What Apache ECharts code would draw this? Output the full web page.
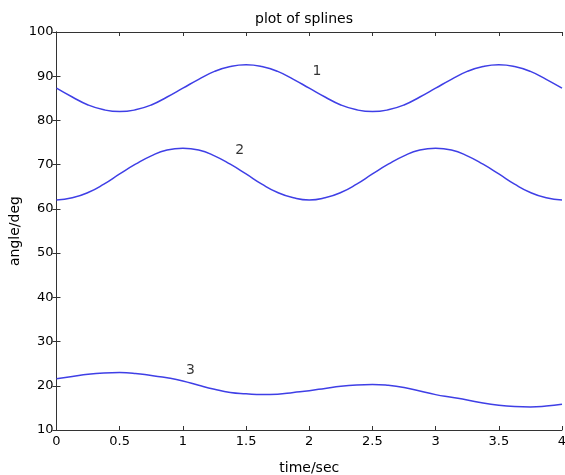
<!DOCTYPE html>
<html>
<head>
<meta charset="utf-8">
<script src="https://cdn.jsdelivr.net/npm/echarts@6/dist/echarts.min.js"></script>
<style>
  html, body { margin: 0; padding: 0; background: #fff; }
  #chart { width: 565px; height: 475px; }
</style>
</head>
<body>
<div id="chart"></div>
<script>
// time samples (sec)
const timeSec = [0, 0.125, 0.25, 0.375, 0.5, 0.625, 0.75, 0.875, 1, 1.125, 1.25, 1.375, 1.5, 1.625, 1.75, 1.875,
  2, 2.125, 2.25, 2.375, 2.5, 2.625, 2.75, 2.875, 3, 3.125, 3.25, 3.375, 3.5, 3.625, 3.75, 3.875, 4];
// spline values (deg)
const spline1 = [87.3, 85.3, 83.5, 82.4, 82.0, 82.4, 83.5, 85.3, 87.3, 89.3, 91.1, 92.2, 92.6, 92.2, 91.1, 89.3,
  87.3, 85.3, 83.5, 82.4, 82.0, 82.4, 83.5, 85.3, 87.3, 89.3, 91.1, 92.2, 92.6, 92.2, 91.1, 89.3, 87.3];
const spline2 = [62.0, 62.5, 63.7, 65.6, 67.9, 70.1, 72.0, 73.3, 73.7, 73.3, 72.0, 70.1, 67.9, 65.6, 63.7, 62.5,
  62.0, 62.5, 63.7, 65.6, 67.9, 70.1, 72.0, 73.3, 73.7, 73.3, 72.0, 70.1, 67.9, 65.6, 63.7, 62.5, 62.0];
const spline3 = [21.6, 22.1, 22.6, 22.9, 23.0, 22.8, 22.3, 21.8, 21.1, 20.1, 19.2, 18.5, 18.2, 18.0, 18.1, 18.5,
  18.9, 19.4, 19.9, 20.2, 20.3, 20.1, 19.6, 18.8, 18.0, 17.4, 16.8, 16.1, 15.6, 15.3, 15.2, 15.4, 15.8];
// curve tags
const tagText = ['1', '2', '3'];
const tagX = [2.06, 1.45, 1.06];
const tagY = [91.2, 73.2, 23.4];

const FONT = 'DejaVu Sans';
const LINE = '#3f3fe6';
const INK = '#000';

const chart = echarts.init(document.getElementById('chart'));

const pair = (ys) => timeSec.map((t, i) => [t, ys[i]]);
const lineSeries = [spline1, spline2, spline3].map((ys) => ({
  type: 'line',
  data: pair(ys),
  smooth: true,
  showSymbol: false,
  lineStyle: { color: LINE, width: 1.5 },
  silent: true,
  z: 3,
}));

const xCommon = {
  type: 'value',
  min: 0,
  max: 4,
  interval: 0.5,
  splitLine: { show: false },
  axisLine: { show: true, lineStyle: { color: '#333', width: 1 } },
  axisTick: { show: true, inside: true, length: 4, lineStyle: { color: '#333' } },
};
const yCommon = {
  type: 'value',
  min: 10,
  max: 100,
  interval: 10,
  splitLine: { show: false },
  axisLine: { show: true, lineStyle: { color: '#333', width: 1 } },
  axisTick: { show: true, inside: true, length: 4, lineStyle: { color: '#333' } },
};

const option = {
  backgroundColor: '#fff',
  animation: false,
  title: {
    text: 'plot of splines',
    left: 255,
    top: 12,
    padding: 0,
    textStyle: { fontFamily: FONT, fontSize: 14, fontWeight: 'normal', color: INK },
  },
  grid: { left: 56.5, right: 3, top: 32, bottom: 45, containLabel: false, outerBoundsMode: 'none' },
  xAxis: [
    Object.assign({}, xCommon, {
      position: 'bottom',
      name: 'time/sec',
      nameLocation: 'middle',
      nameGap: 31,
      nameTextStyle: { fontFamily: FONT, fontSize: 14, color: INK },
      axisLabel: { margin: 5, fontFamily: FONT, fontSize: 13, color: INK },
    }),
    Object.assign({}, xCommon, { position: 'top', axisLabel: { show: false } }),
  ],
  yAxis: [
    Object.assign({}, yCommon, {
      position: 'left',
      name: 'angle/deg',
      nameLocation: 'middle',
      nameGap: 34,
      nameMoveOverlap: false,
      nameTextStyle: { fontFamily: FONT, fontSize: 14, color: INK },
      axisLabel: { margin: 3, fontFamily: FONT, fontSize: 13, color: INK },
    }),
    Object.assign({}, yCommon, { position: 'right', axisLabel: { show: false } }),
  ],
  series: lineSeries.concat([
    {
      type: 'scatter',
      data: tagX.map((x, i) => ({ value: [x, tagY[i]], name: tagText[i] })),
      symbolSize: 0,
      silent: true,
      label: {
        show: true,
        position: 'inside',
        formatter: (p) => p.name,
        fontFamily: FONT,
        fontSize: 14,
        color: INK,
      },
    },
  ]),
};

chart.setOption(option);
</script>
</body>
</html>
